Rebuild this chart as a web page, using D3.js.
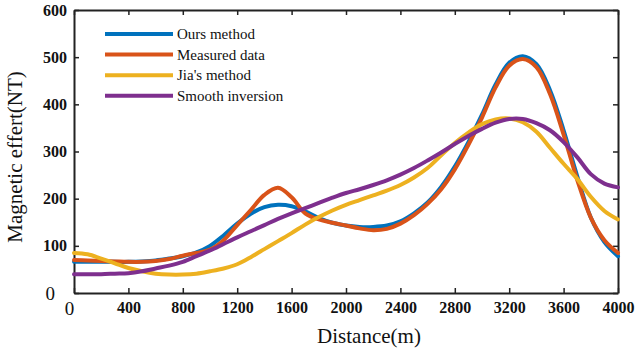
<!DOCTYPE html>
<html>
<head>
<meta charset="utf-8">
<script src="https://cdn.jsdelivr.net/npm/d3@7"></script>
<style>
    body { margin: 0; background: #fff; }
    #chart-area { width: 640px; height: 349px; }
    .axis path, .axis line { stroke: #222; }
    .axis text { font-family: "Liberation Serif", "Times New Roman", serif; fill: #111; }
    .axis-title { font-family: "Liberation Serif", "Times New Roman", serif; fill: #111; }
    .legend text { font-family: "Liberation Serif", "Times New Roman", serif; fill: #111; }
</style>
</head>
<body>
<div id="chart-area"></div>
<script>
// distance along the profile (m)
const distances = [0, 100, 200, 300, 400, 500, 600, 700, 800, 900,
    1000, 1100, 1200, 1300, 1400, 1500, 1600, 1700, 1800, 1900,
    2000, 2100, 2200, 2300, 2400, 2500, 2600, 2700, 2800, 2900,
    3000, 3100, 3200, 3300, 3400, 3500, 3600, 3700, 3800, 3900, 4000];

const oursMethod = [66, 66, 66, 66, 66, 67, 69, 73, 78, 86,
    100, 122, 147, 168, 182, 187, 184, 173, 159, 149,
    143, 140, 140, 143, 152, 169, 192, 225, 268, 320,
    378, 442, 488, 502, 485, 430, 345, 248, 160, 108, 78];

const measuredData = [70, 69, 68, 67, 66, 66, 68, 72, 79, 85,
    92, 112, 144, 176, 208, 223, 203, 169, 156, 149,
    143, 137, 133, 136, 147, 165, 189, 220, 262, 314,
    372, 436, 482, 496, 479, 422, 336, 240, 160, 112, 85];

const jiaMethod = [85, 82, 73, 63, 53, 46, 41, 39, 39, 41,
    46, 52, 61, 76, 93, 110, 127, 145, 161, 175,
    187, 197, 207, 217, 229, 245, 265, 292, 318, 340,
    358, 368, 370, 362, 342, 308, 274, 242, 204, 174, 156];

const smoothInversion = [40, 40, 40, 41, 42, 46, 52, 58, 66, 78,
    90, 104, 118, 131, 144, 157, 169, 180, 191, 202,
    212, 220, 229, 239, 251, 265, 281, 298, 316, 333,
    348, 361, 369, 369, 360, 345, 320, 288, 252, 232, 224];

const seriesNames = ["Ours method", "Measured data", "Jia's method", "Smooth inversion"];
const seriesColors = ["#0072BD", "#D95319", "#EDB120", "#7E2F8E"];

const xTicks = [0, 400, 800, 1200, 1600, 2000, 2400, 2800, 3200, 3600, 4000];
const yTicks = [0, 100, 200, 300, 400, 500, 600];

class LineVis {
    constructor(parentElement) {
        this.parentElement = parentElement;
        this.seriesData = [oursMethod, measuredData, jiaMethod, smoothInversion].map((vals, i) => ({
            name: seriesNames[i],
            color: seriesColors[i],
            values: distances.map((x, j) => ({ x: x, y: vals[j] }))
        }));
        this.initVis();
    }

    initVis() {
        const vis = this;

        vis.margin = { top: 10, right: 22, bottom: 56, left: 74 };
        vis.width = 640 - vis.margin.left - vis.margin.right;
        vis.height = 349 - vis.margin.top - vis.margin.bottom;

        vis.svg = d3.select("#" + vis.parentElement)
            .append("svg")
            .attr("width", 640)
            .attr("height", 349)
            .append("g")
            .attr("transform", `translate(${vis.margin.left}, ${vis.margin.top})`);

        vis.xScale = d3.scaleLinear()
            .domain([0, 4000])
            .range([0, vis.width]);

        vis.yScale = d3.scaleLinear()
            .domain([0, 600])
            .range([vis.height, 0]);

        // bottom + left axes with labels, ticks pointing inward
        vis.xAxisGroup = vis.svg.append("g")
            .attr("class", "x-axis axis")
            .attr("transform", `translate(0, ${vis.height})`)
            .call(d3.axisBottom(vis.xScale).tickValues(xTicks).tickFormat(d3.format("d"))
                .tickSize(-5).tickPadding(8).tickSizeOuter(0));

        vis.yAxisGroup = vis.svg.append("g")
            .attr("class", "y-axis axis")
            .call(d3.axisLeft(vis.yScale).tickValues(yTicks).tickFormat(d3.format("d"))
                .tickSize(-5).tickPadding(7).tickSizeOuter(0));

        // top + right box lines, ticks only
        vis.svg.append("g")
            .attr("class", "axis")
            .call(d3.axisTop(vis.xScale).tickValues(xTicks).tickSize(-5).tickFormat("").tickSizeOuter(0));

        vis.svg.append("g")
            .attr("class", "axis")
            .attr("transform", `translate(${vis.width}, 0)`)
            .call(d3.axisRight(vis.yScale).tickValues(yTicks).tickSize(-5).tickFormat("").tickSizeOuter(0));

        vis.svg.selectAll(".axis path").attr("stroke-width", 2);
        vis.svg.selectAll(".axis line").attr("stroke-width", 1.5);

        vis.svg.selectAll(".axis text")
            .attr("font-size", 16)
            .attr("font-weight", "bold");

        vis.xAxisGroup.selectAll("text")
            .attr("dy", "0.75em")
            .filter(d => d === 0)
            .attr("dx", -5)
            .attr("font-size", 19)
            .attr("font-weight", "normal");

        vis.yAxisGroup.selectAll("text")
            .filter(d => d === 0)
            .attr("dx", -12)
            .attr("font-size", 19)
            .attr("font-weight", "normal");

        vis.svg.append("text")
            .attr("class", "axis-title")
            .attr("x", 295)
            .attr("y", vis.height + 50)
            .attr("text-anchor", "middle")
            .attr("font-size", 21)
            .text("Distance(m)");

        vis.svg.append("text")
            .attr("class", "axis-title")
            .attr("transform", `translate(-52, 147) rotate(-90)`)
            .attr("text-anchor", "middle")
            .attr("font-size", 21)
            .text("Magnetic effert(NT)");

        vis.line = d3.line()
            .x(d => vis.xScale(d.x))
            .y(d => vis.yScale(d.y))
            .curve(d3.curveCatmullRom.alpha(0.5));

        vis.updateVis();
    }

    updateVis() {
        const vis = this;

        vis.svg.selectAll(".series")
            .data(vis.seriesData)
            .enter()
            .append("path")
            .attr("class", "series")
            .attr("d", d => vis.line(d.values))
            .attr("fill", "none")
            .attr("stroke", d => d.color)
            .attr("stroke-width", 4)
            .attr("stroke-linejoin", "round")
            .attr("stroke-linecap", "round");

        const legend = vis.svg.append("g")
            .attr("class", "legend")
            .attr("transform", "translate(31, 24)");

        const items = legend.selectAll(".legend-item")
            .data(vis.seriesData)
            .enter()
            .append("g")
            .attr("class", "legend-item")
            .attr("transform", (d, i) => `translate(0, ${i * 20.6})`);

        items.append("line")
            .attr("x1", 0)
            .attr("x2", 68)
            .attr("stroke", d => d.color)
            .attr("stroke-width", 4);

        items.append("text")
            .attr("x", 72)
            .attr("dy", "0.35em")
            .attr("font-size", 15)
            .text(d => d.name);
    }
}

new LineVis("chart-area");
</script>
</body>
</html>
